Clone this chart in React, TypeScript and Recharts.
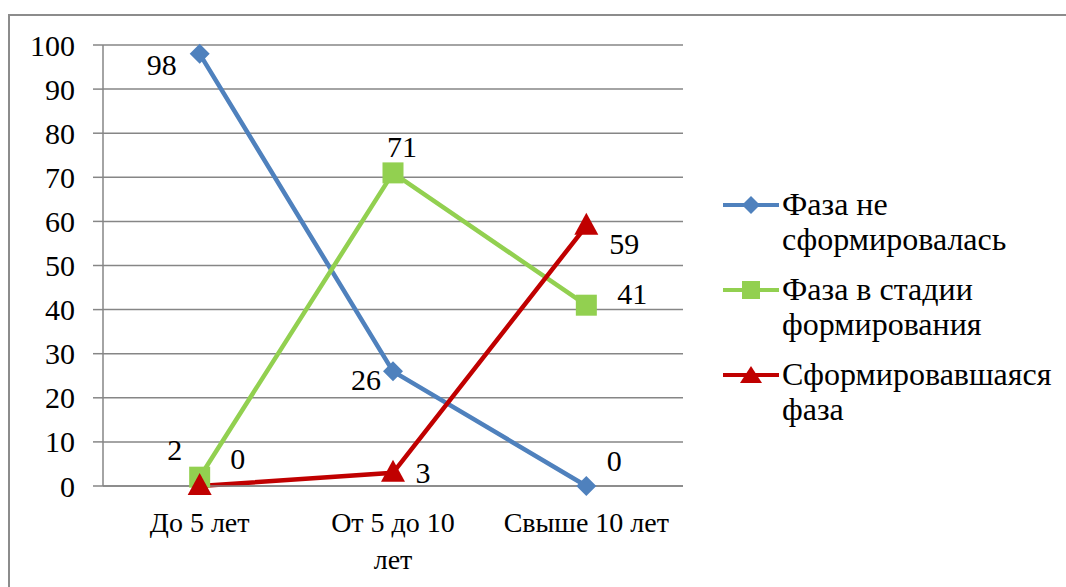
import React from 'react';
import { LineChart, Line, XAxis, YAxis, CartesianGrid } from 'recharts';

// categories and series
const categories = ['До 5 лет', 'От 5 до 10 лет', 'Свыше 10 лет'];
const notFormed = [98, 26, 0];
const forming = [2, 71, 41];
const formed = [0, 3, 59];
const yTicks = [0, 10, 20, 30, 40, 50, 60, 70, 80, 90, 100];

const FONT = '"Liberation Serif", serif';
const FS_X = 28;
const FS_Y = 30;
const FS_LABEL = 30;
const FS_LEGEND = 32;
const AXIS = '#868686';

// x positions: category i sits in the middle of its slot
const data = categories.map((c, i) => ({
  name: c,
  pos: i + 0.5,
  notFormed: notFormed[i],
  forming: forming[i],
  formed: formed[i],
}));
const catTicks = data.map((d) => d.pos);
const slotTicks = [0, 1, 2, 3];

// label offsets relative to the point (styling only)
const offBlue = [[-38, 11], [-27, 8], [28, -26]];
const offGreen = [[-25, -28], [9, -26], [46, -12]];
const offRed = [[38, -28], [30, 0], [38, 18]];

const makeLabel = (offs: number[][]) => (props: any) => {
  const { x, y, value, index } = props;
  const [dx, dy] = offs[index] || [0, 0];
  return (
    <text key={index} x={x + dx} y={y + dy} textAnchor="middle" dominantBaseline="central"
      style={{ fontFamily: FONT, fontSize: FS_LABEL }} fill="#000">{value}</text>
  );
};

const Diamond = (props: any) => {
  const { cx, cy } = props;
  const r = 10;
  return <path d={`M${cx},${cy - r}L${cx + r},${cy}L${cx},${cy + r}L${cx - r},${cy}Z`} fill="#4F81BD" />;
};
const Square = (props: any) => {
  const { cx, cy } = props;
  const s = 10.5;
  return <rect x={cx - s} y={cy - s} width={s * 2} height={s * 2} fill="#92D050" />;
};
const Triangle = (props: any) => {
  const { cx, cy } = props;
  return <path d={`M${cx},${cy - 13}L${cx + 12},${cy + 9}L${cx - 12},${cy + 9}Z`} fill="#C00000" />;
};

const XTick = (props: any) => {
  const { x, y, payload } = props;
  const idx = Math.round(payload.value - 0.5);
  const label = categories[idx] || '';
  const lines = label === 'От 5 до 10 лет' ? ['От 5 до 10', 'лет'] : [label];
  return (
    <g>
      {lines.map((l, i) => (
        <text key={i} x={x} y={y + 28 + i * 37} textAnchor="middle" dominantBaseline="central"
          style={{ fontFamily: FONT, fontSize: FS_X }} fill="#000">{l}</text>
      ))}
    </g>
  );
};

const YTick = (props: any) => {
  const { x, y, payload } = props;
  return (
    <text x={x} y={y} textAnchor="end" dominantBaseline="central"
      style={{ fontFamily: FONT, fontSize: FS_Y }} fill="#000">{payload.value}</text>
  );
};

const legendItems = [
  { lines: ['Фаза не', 'сформировалась'], color: '#4F81BD', shape: 'diamond' },
  { lines: ['Фаза в стадии', 'формирования'], color: '#92D050', shape: 'square' },
  { lines: ['Сформировавшаяся', 'фаза'], color: '#C00000', shape: 'triangle' },
];

const LegendMarker = ({ color, shape }: { color: string; shape: string }) => (
  <svg width={56} height={24} style={{ display: 'block' }}>
    <line x1={0} y1={12} x2={56} y2={12} stroke={color} strokeWidth={4} />
    {shape === 'diamond' && <path d="M28,3L37,12L28,21L19,12Z" fill={color} />}
    {shape === 'square' && <rect x={19} y={3} width={18} height={18} fill={color} />}
    {shape === 'triangle' && <path d="M28,3L39,20L17,20Z" fill={color} />}
  </svg>
);

export default function App() {
  return (
    <div style={{ position: 'fixed', left: 0, top: 0, width: 1066, height: 587, overflow: 'hidden', background: '#fff' }}>
      <div style={{ position: 'absolute', left: 8, top: 14, width: 1200, height: 700, border: '2px solid #8c8c8c' }} />
      <div style={{ position: 'absolute', left: 0, top: 0 }}>
        <LineChart width={1066} height={587} data={data}
          margin={{ top: 45, right: 383, bottom: 61, left: 43 }}>
          <CartesianGrid vertical={false} stroke={AXIS} strokeWidth={1.5} />
          <XAxis type="number" dataKey="pos" domain={[0, 3]} ticks={catTicks} interval={0}
            tick={<XTick />} tickLine={false} axisLine={{ stroke: AXIS, strokeWidth: 1.5 }} height={40} />
          <XAxis xAxisId="slots" type="number" dataKey="pos" domain={[0, 3]} ticks={slotTicks} interval={0}
            tick={false} tickSize={8} axisLine={false} height={0}
            tickLine={{ stroke: AXIS, strokeWidth: 1.5 }} />
          <YAxis domain={[0, 100]} ticks={yTicks} interval={0} width={60} tickSize={10} tickMargin={18}
            axisLine={{ stroke: AXIS, strokeWidth: 1.5 }} tickLine={{ stroke: AXIS, strokeWidth: 1.5 }}
            tick={<YTick />} />
          <Line dataKey="notFormed" stroke="#4F81BD" strokeWidth={4.5} dot={<Diamond />} activeDot={false}
            label={makeLabel(offBlue)} isAnimationActive={false} />
          <Line dataKey="forming" stroke="#92D050" strokeWidth={4.5} dot={<Square />} activeDot={false}
            label={makeLabel(offGreen)} isAnimationActive={false} />
          <Line dataKey="formed" stroke="#C00000" strokeWidth={4.5} dot={<Triangle />} activeDot={false}
            label={makeLabel(offRed)} isAnimationActive={false} />
        </LineChart>
      </div>
      {legendItems.map((it, i) => (
        <div key={i} style={{ position: 'absolute', left: 723, top: 187 + i * 85, display: 'flex', alignItems: 'flex-start' }}>
          <div style={{ marginTop: 6 }}><LegendMarker color={it.color} shape={it.shape} /></div>
          <div style={{ fontFamily: FONT, fontSize: FS_LEGEND, lineHeight: '35px', color: '#000', marginLeft: 3 }}>
            {it.lines.map((l, j) => <div key={j}>{l}</div>)}
          </div>
        </div>
      ))}
    </div>
  );
}
